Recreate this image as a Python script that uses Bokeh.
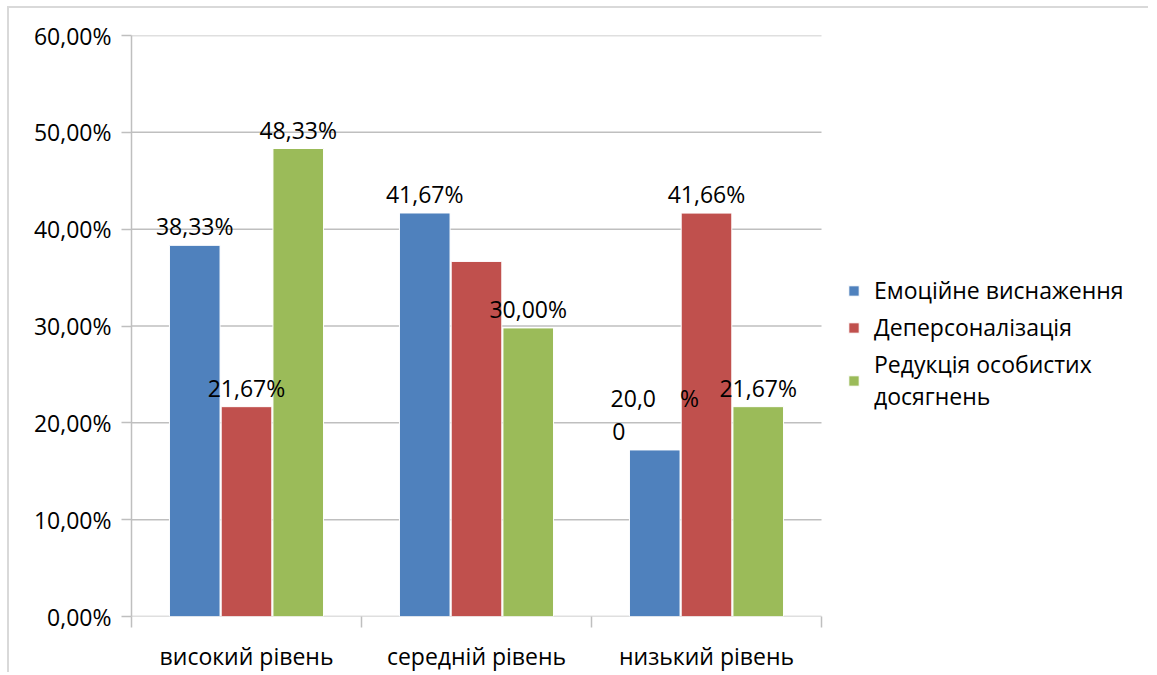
from bokeh.plotting import figure
from bokeh.models import Range1d, FixedTicker, ColumnDataSource, Legend, LegendItem
from bokeh.transform import dodge
from bokeh.core.properties import value
from bokeh.embed import file_html
from bokeh.resources import INLINE

categories = ["високий рівень", "середній рівень", "низький рівень"]
series_names = ["Емоційне виснаження", "Деперсоналізація", "Редукція особистих\nдосягнень"]
emotional = [38.33, 41.67, 17.2]
depersonal = [21.67, 36.67, 41.66]
reduction = [48.33, 29.8, 21.67]
emotional_labels = ["38,33%", "41,67%", "20,0\u00a0\u00a0\u00a0\u00a0%\n0" + "\u00a0" * 12]
depersonal_labels = ["21,67%", "", "41,66%"]
reduction_labels = ["48,33%", "30,00%", "21,67%"]
y_ticks = [0, 10, 20, 30, 40, 50, 60]
y_tick_labels = ["0,00%", "10,00%", "20,00%", "30,00%", "40,00%", "50,00%", "60,00%"]
colors = ["#4F81BD", "#C0504D", "#9BBB59"]

FONT = "Open Sans"
FS = "23px"
GRID = "#BFBFBF"
W, H = 1141, 666
LEFT, TOP = 122, 27
PLOT_W = 690  # width of the category area in pixels

n_cat = len(categories)
xs = [i + 0.5 for i in range(n_cat)]
src = ColumnDataSource(dict(
    x=xs,
    e=emotional, d=depersonal, r=reduction,
    el=emotional_labels, dl=depersonal_labels, rl=reduction_labels,
))

x_end = n_cat * (W - LEFT) / PLOT_W
p = figure(width=W, height=H, output_backend="svg", toolbar_location=None,
           x_range=Range1d(0, x_end), y_range=Range1d(0, 60),
           min_border_left=LEFT, min_border_top=TOP, min_border_bottom=40,
           min_border_right=0)
p.outline_line_color = None
p.background_fill_color = "white"
p.border_fill_color = "white"
p.xgrid.grid_line_color = None
p.ygrid.grid_line_color = None

# horizontal gridlines over the category area only
p.segment(x0=0, x1=n_cat, y0=y_ticks, y1=y_ticks, line_color=GRID, line_width=1.5)

offsets = [-0.225, 0.0, 0.225]
fields = ["e", "d", "r"]
label_fields = ["el", "dl", "rl"]
renderers = []
for off, f, c in zip(offsets, fields, colors):
    r = p.vbar(x=dodge("x", off, range=p.x_range), top=f, bottom=0, width=0.22,
               source=src, fill_color=c, line_color="white", line_width=1)
    renderers.append(r)
for off, f, lf in zip(offsets, fields, label_fields):
    p.text(x=dodge("x", off, range=p.x_range), y=f, text=lf, source=src,
           text_align="center", text_baseline="bottom", y_offset=-3,
           text_font=value(FONT), text_font_size=FS, text_color="black",
           text_line_height=1.03)

# axes
yax = p.yaxis[0]
yax.ticker = FixedTicker(ticks=y_ticks)
yax.major_label_overrides = {t: l for t, l in zip(y_ticks, y_tick_labels)}
yax.axis_line_color = GRID
yax.axis_line_width = 1.5
yax.major_tick_line_color = GRID
yax.major_tick_line_width = 1.5
yax.major_tick_out = 10
yax.major_tick_in = 0
yax.minor_tick_line_color = None
yax.major_label_standoff = 10
yax.major_label_text_font = FONT
yax.major_label_text_font_size = FS
yax.major_label_text_color = "black"
yax.axis_label = None

xax = p.xaxis[0]
xax.ticker = FixedTicker(ticks=xs, minor_ticks=list(range(n_cat + 1)))
xax.major_label_overrides = {t: l for t, l in zip(xs, categories)}
xax.axis_line_color = None
xax.major_tick_line_color = None
xax.major_tick_out = 0
xax.major_tick_in = 0
xax.minor_tick_line_color = GRID
xax.minor_tick_line_width = 1.5
xax.minor_tick_out = 11
xax.minor_tick_in = 0
xax.major_label_standoff = 12
xax.major_label_text_font = FONT
xax.major_label_text_font_size = FS
xax.major_label_text_color = "black"
xax.axis_label = None

legend = Legend(items=[LegendItem(label=n, renderers=[r]) for n, r in zip(series_names, renderers)],
                location=(716, 204), margin=0, padding=10, border_line_color=None,
                glyph_width=13, glyph_height=13, label_standoff=14, spacing=5,
                label_text_font=FONT, label_text_font_size=FS, label_text_color="black",
                label_text_line_height=0.94,
                background_fill_alpha=0)
p.add_layout(legend)

p.styles = {"border-top": "2px solid #D9D9D9", "border-left": "2px solid #D9D9D9",
            "margin-top": "6px", "margin-left": "7px"}

open("out.html", "w").write(file_html(p, INLINE))
